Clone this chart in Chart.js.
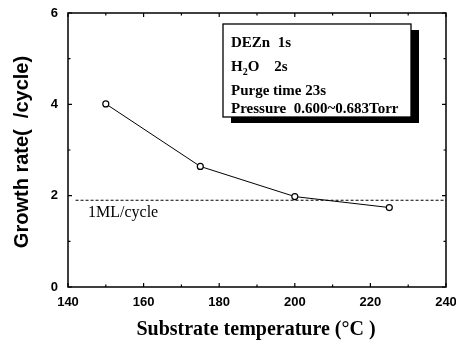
<!DOCTYPE html>
<html>
<head>
<meta charset="utf-8">
<script src="https://cdn.jsdelivr.net/npm/chart.js@4.4.1/dist/chart.umd.min.js"></script>
<style>
  html, body { margin: 0; padding: 0; background: #fff; }
  #wrap { width: 456px; height: 345px; }
</style>
</head>
<body>
<div id="wrap"><canvas id="chart"></canvas></div>
<script>
// measured points
var temps = [150, 175, 200, 225];
var rates = [4.01, 2.64, 1.98, 1.74];

// 1 monolayer per cycle reference
var mlLevel = 1.9;
var mlRange = [142, 240];

var xTicks = [140, 160, 180, 200, 220, 240];
var yTicks = [0, 2, 4, 6];
var xMinor = [150, 170, 190, 210, 230];
var yMinor = [1, 3, 5];

var boxLines = ['DEZn  1s', 'H2O', 'Purge time 23s', 'Pressure  0.600~0.683Torr'];

function pts(xs, ys) {
    var out = [];
    for (var i = 0; i < xs.length; i++) out.push({ x: xs[i], y: ys[i] });
    return out;
}

var serif = '"Liberation Serif", "Times New Roman", serif';
var sans = '"Liberation Sans", Arial, sans-serif';

var frame = {
    id: 'frame',
    afterDraw: function (chart) {
        var ctx = chart.ctx;
        var a = chart.chartArea;
        var xs = chart.scales.x, ys = chart.scales.y;
        ctx.save();
        ctx.strokeStyle = '#000';
        ctx.lineWidth = 1.5;
        ctx.strokeRect(a.left, a.top, a.right - a.left, a.bottom - a.top);

        // inward ticks on all four sides
        ctx.lineWidth = 1.2;
        ctx.beginPath();
        function xt(v, len) {
            var p = xs.getPixelForValue(v);
            ctx.moveTo(p, a.bottom); ctx.lineTo(p, a.bottom - len);
            ctx.moveTo(p, a.top); ctx.lineTo(p, a.top + len);
        }
        function yt(v, len) {
            var p = ys.getPixelForValue(v);
            ctx.moveTo(a.left, p); ctx.lineTo(a.left + len, p);
            ctx.moveTo(a.right, p); ctx.lineTo(a.right - len, p);
        }
        xTicks.forEach(function (v) { xt(v, 4); });
        xMinor.forEach(function (v) { xt(v, 2.5); });
        yTicks.forEach(function (v) { yt(v, 4); });
        yMinor.forEach(function (v) { yt(v, 2.5); });
        ctx.stroke();

        // tick labels
        ctx.fillStyle = '#000';
        ctx.font = 'bold 13px ' + sans;
        ctx.textAlign = 'center';
        ctx.textBaseline = 'middle';
        xTicks.forEach(function (v) {
            ctx.fillText(String(v), xs.getPixelForValue(v), a.bottom + 15);
        });
        ctx.textAlign = 'right';
        yTicks.forEach(function (v) {
            ctx.fillText(String(v), a.left - 10, ys.getPixelForValue(v));
        });

        // axis titles
        ctx.font = 'bold 20px ' + serif;
        ctx.textAlign = 'center';
        ctx.fillText('Substrate temperature (°C )', 256, 330);

        ctx.save();
        ctx.translate(22, 152);
        ctx.rotate(-Math.PI / 2);
        ctx.font = 'bold 20px ' + sans;
        ctx.fillText('Growth rate(  /cycle)', 0, 0);
        ctx.restore();

        // 1ML label
        ctx.font = '16px ' + serif;
        ctx.textAlign = 'left';
        ctx.fillText('1ML/cycle', 88, ys.getPixelForValue(mlLevel) + 13);

        // condition box with shadow
        var bx = 223, by = 24, bw = 188, bh = 93;
        ctx.fillStyle = '#000';
        ctx.fillRect(bx + 8, by + 6, bw, bh);
        ctx.fillStyle = '#fff';
        ctx.fillRect(bx, by, bw, bh);
        ctx.lineWidth = 1.3;
        ctx.strokeRect(bx, by, bw, bh);

        ctx.fillStyle = '#000';
        var f = 'bold 15px ' + serif;
        ctx.font = f;
        ctx.textAlign = 'left';
        ctx.textBaseline = 'alphabetic';
        var tx = bx + 8;
        ctx.fillText(boxLines[0], tx, by + 23);
        ctx.fillText('H', tx, by + 47);
        var hw = ctx.measureText('H').width;
        ctx.font = 'bold 10px ' + serif;
        ctx.fillText('2', tx + hw, by + 51);
        var sw = ctx.measureText('2').width;
        ctx.font = f;
        ctx.fillText('O    2s', tx + hw + sw, by + 47);
        ctx.fillText(boxLines[2], tx, by + 71);
        ctx.fillText(boxLines[3], tx, by + 89);
        ctx.restore();
    }
};

new Chart(document.getElementById('chart'), {
    type: 'scatter',
    data: {
        datasets: [{
            data: pts(temps, rates),
            showLine: true,
            borderColor: '#000',
            borderWidth: 1,
            pointRadius: 3,
            pointBorderWidth: 1.2,
            pointBackgroundColor: '#fff',
            pointBorderColor: '#000'
        }, {
            data: pts(mlRange, [mlLevel, mlLevel]),
            showLine: true,
            borderColor: '#000',
            borderWidth: 1.2,
            borderDash: [3, 2],
            pointRadius: 0
        }]
    },
    options: {
        responsive: true,
        maintainAspectRatio: false,
        animation: false,
        layout: { padding: { left: 68, right: 10, top: 13, bottom: 58 } },
        plugins: { legend: { display: false }, tooltip: { enabled: false } },
        scales: {
            x: { type: 'linear', min: 140, max: 240, display: false },
            y: { type: 'linear', min: 0, max: 6, display: false }
        }
    },
    plugins: [frame]
});
</script>
</body>
</html>
